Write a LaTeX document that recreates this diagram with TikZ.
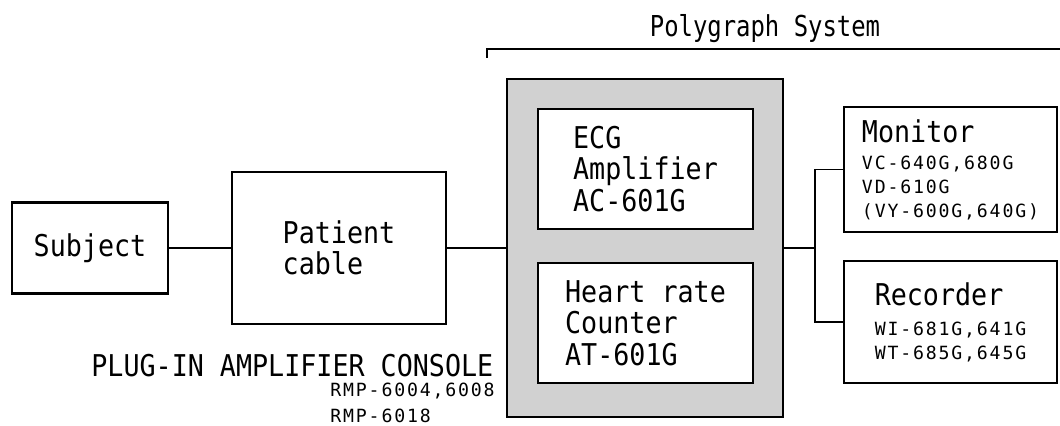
\documentclass[tikz,border=0pt]{standalone}
\usepackage{fontspec}
\newfontfamily\bigmono[FakeStretch=0.89]{DejaVu Sans Mono}
\newfontfamily\smallmono[LetterSpace=10]{DejaVu Sans Mono}
\newfontfamily\titlemono[FakeStretch=0.83]{DejaVu Sans Mono}
\newcommand{\bigtext}{\bigmono\fontsize{15pt}{15.75pt}\selectfont}
\newcommand{\smalltext}{\smallmono\fontsize{9.1pt}{12pt}\selectfont}
\newcommand{\titletext}{\titlemono\fontsize{14.4pt}{16pt}\selectfont}
\usetikzlibrary{positioning}

\begin{document}
\begin{tikzpicture}[
		x=0.5pt, y=-0.5pt,
		node distance=10pt,
		box/.style={
			draw,
			line width=1.1pt,
			rectangle,
			outer sep=0pt,
			inner sep=0pt,
			align=left,
			font=\bigtext
		},
		unit/.style={
			box,
			fill=white,
			minimum width=107.5pt,
			minimum height=60pt
		},
		outbox/.style={
			box,
			minimum width=106.5pt,
			font=\smalltext
		},
		console/.style={
			draw,
			line width=1.1pt,
			fill=black!18,
			outer sep=0pt,
			minimum width=138pt,
			minimum height=169pt
		},
		line/.style={line width=0.9pt},
		txt/.style={inner sep=0pt, font=\bigtext},
		smalltxt/.style={inner sep=0pt, font=\smalltext, align=left}
		]
		
		\useasboundingbox (0,0) rectangle (1060,426);
		
		% ---- Input side ----
		\node[box, minimum width=78pt, minimum height=45.5pt] (subject) at (90,248) {Subject};
		
		\node[box, right=32pt of subject, minimum width=107pt, minimum height=76pt] (cable)
		{Patient\\cable};
		
		% ---- Polygraph console ----
		\node[console, right=30.5pt of cable] (console) {};
		
		\node[unit] (ecg) at (645.5,169) {ECG\\Amplifier\\AC-601G};
		
		\node[unit, below=17pt of ecg] (hrc) {Heart rate\\Counter\\AT-601G};
		
		\node[txt, anchor=base west] (consolelabel) at (91,377) {PLUG-IN AMPLIFIER CONSOLE};
		\node[smalltxt, anchor=base west] (rmp) at (330,423) {RMP-6004,6008\\[1pt]RMP-6018};
		
		% ---- Output side ----
		\node[outbox, minimum height=62.5pt] (monitor) at (950.5,169.5)
		{{\bigtext Monitor}\\[1.5pt]VC-640G,680G\\VD-610G\\(VY-600G,640G)};
		
		\node[outbox, below=14.5pt of monitor, minimum height=61pt] (recorder)
		{{\bigtext Recorder}\\[3pt]WI-681G,641G\\WT-685G,645G};
		
		% ---- Polygraph bracket ----
		\coordinate (brleft) at (487,58);
		\coordinate (brright) at (1060,49);
		\draw[line] (brleft) |- (brright);
		\node[txt, font=\titletext, anchor=base] (polytitle) at (765,37) {Polygraph System};
		
		% ---- Connections ----
		\coordinate (split) at (815,248);
		
		\draw[line] (subject) -- (cable);
		\draw[line] (cable) -- (console);
		\draw[line] (console) -- (split);
		\draw[line] (monitor.west) -| (split) |- (recorder.west);
		
	\end{tikzpicture}
\end{document}
